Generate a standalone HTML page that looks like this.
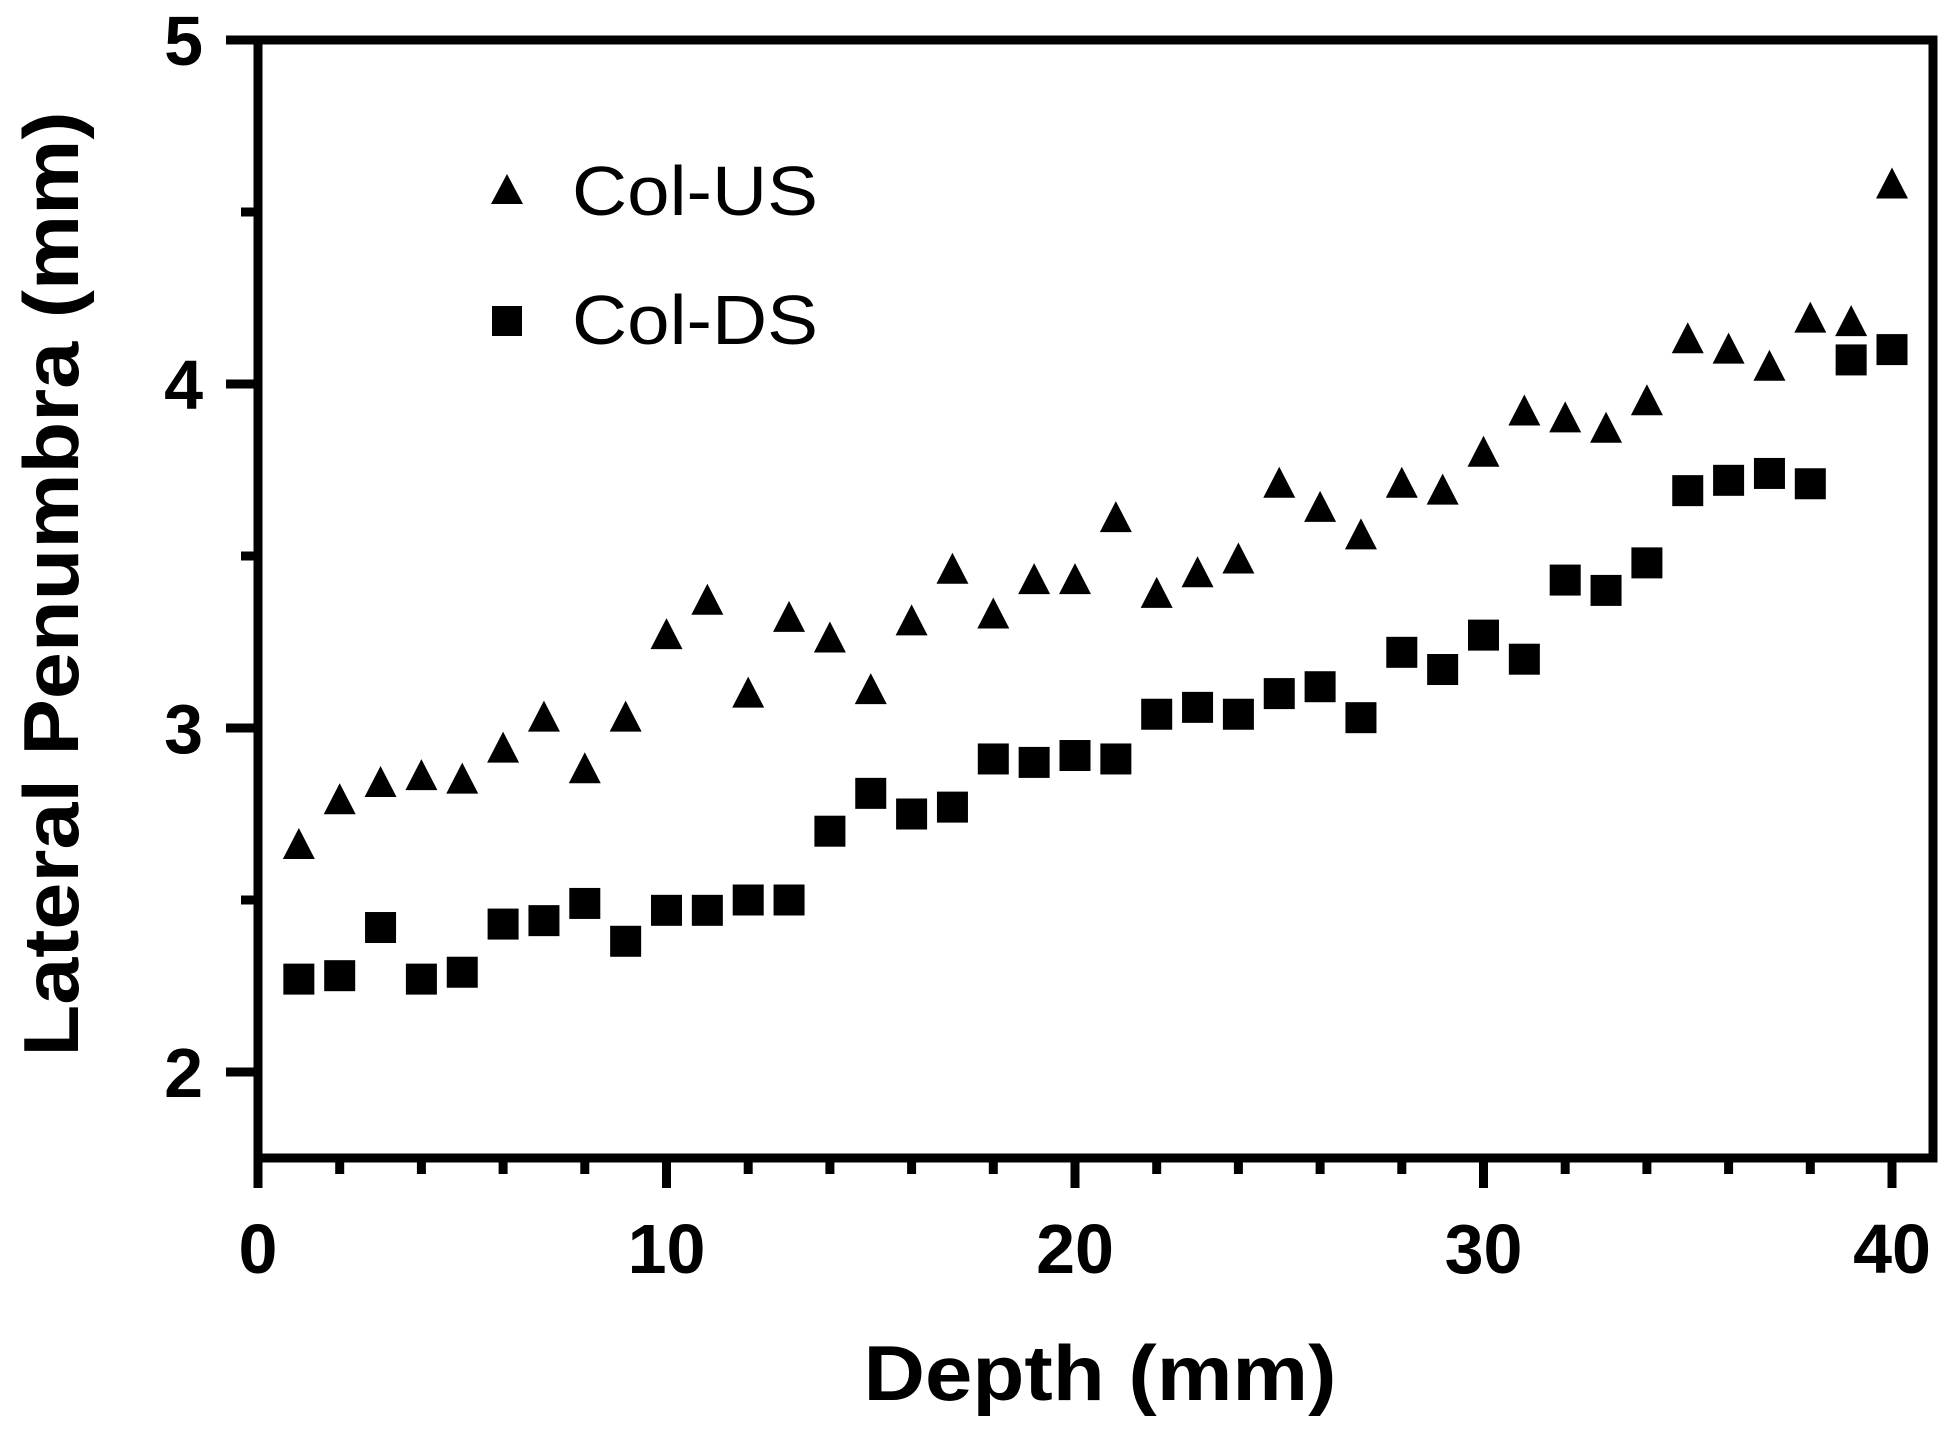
<!DOCTYPE html>
<html><head><meta charset="utf-8"><style>
html,body{margin:0;padding:0;background:#fff}
svg{display:block;font-family:"Liberation Sans",Arial,sans-serif}
</style></head><body>
<svg id="chart" width="1950" height="1439" viewBox="0 0 1950 1439" xmlns="http://www.w3.org/2000/svg">
<g id="axes"></g>
<g id="marks"></g>
<g>
  <polygon points="507,174 491,204 523,204" fill="#000"/>
  <text x="572" y="215" font-size="70" textLength="246" lengthAdjust="spacingAndGlyphs">Col-US</text>
  <rect x="492" y="306" width="30" height="30" fill="#000"/>
  <text x="572" y="344" font-size="70" textLength="246" lengthAdjust="spacingAndGlyphs">Col-DS</text>
</g>
<text x="1100" y="1400" font-size="78" font-weight="bold" text-anchor="middle" textLength="473" lengthAdjust="spacingAndGlyphs">Depth (mm)</text>
<text transform="translate(78,584) rotate(-90)" font-size="78" font-weight="bold" text-anchor="middle" textLength="945" lengthAdjust="spacingAndGlyphs">Lateral Penumbra (mm)</text>
</svg>
<script>
const depths = [1,2,3,4,5,6,7,8,9,10,11,12,13,14,15,16,17,18,19,20,21,22,23,24,25,26,27,28,29,30,31,32,33,34,35,36,37,38,39,40];
const colUS = [2.66,2.79,2.84,2.86,2.85,2.94,3.03,2.88,3.03,3.27,3.37,3.10,3.32,3.26,3.11,3.31,3.46,3.33,3.43,3.43,3.61,3.39,3.45,3.49,3.71,3.64,3.56,3.71,3.69,3.80,3.92,3.90,3.87,3.95,4.13,4.10,4.05,4.19,4.18,4.58];
const colDS = [2.27,2.28,2.42,2.27,2.29,2.43,2.44,2.49,2.38,2.47,2.47,2.50,2.50,2.70,2.81,2.75,2.77,2.91,2.90,2.92,2.91,3.04,3.06,3.04,3.10,3.12,3.03,3.22,3.17,3.27,3.20,3.43,3.40,3.48,3.69,3.72,3.74,3.71,4.07,4.10];
const xTicks = [0,10,20,30,40];
const yTicks = [2,3,4,5];
const NS = "http://www.w3.org/2000/svg";
const X0=258, XPU=40.85, Y5=40, YPU=344;
const xs = v => X0 + v*XPU;
const ys = v => Y5 + (5-v)*YPU;
const L=258, R=1933, T=40, B=1158;
function mk(tag, attrs, parent){const e=document.createElementNS(NS,tag);for(const k in attrs)e.setAttribute(k,attrs[k]);parent.appendChild(e);return e;}
const axes=document.getElementById('axes'), marks=document.getElementById('marks');
const frame = mk('rect',{x:L,y:T,width:R-L,height:B-T,fill:'none',stroke:'#000','stroke-width':9},axes);


for(let v=0; v<=40; v+=2){
  const major = v%10===0;
  const t = mk('line',{x1:xs(v),x2:xs(v),y1:B,y2:B+(major?30:16),stroke:'#000','stroke-width':9},axes);
  
  
}
xTicks.forEach(v=>{
  const t=mk('text',{x:xs(v),y:1273,'font-size':70,'font-weight':'bold','text-anchor':'middle'},axes);
  t.textContent=v;
  
  
});
for(let v=2; v<=5; v+=0.5){
  const major = Number.isInteger(v);
  const t = mk('line',{x1:L,x2:L-(major?32:17),y1:ys(v),y2:ys(v),stroke:'#000','stroke-width':9},axes);
  
  
}
yTicks.forEach(v=>{
  const t=mk('text',{x:203,y:ys(v)+25,'font-size':70,'font-weight':'bold','text-anchor':'end'},axes);
  t.textContent=v;
  
  
});
depths.forEach((d,i)=>{
  const cx=xs(d), cy=ys(colUS[i]);
  const p=mk('polygon',{points:`${cx},${cy-17} ${cx-16},${cy+14} ${cx+16},${cy+14}`,fill:'#000'},marks);
  
  
  const sy=ys(colDS[i]);
  const s=mk('rect',{x:cx-15.5,y:sy-15.5,width:31,height:31,fill:'#000'},marks);
  
  
});
</script>
</body></html>
